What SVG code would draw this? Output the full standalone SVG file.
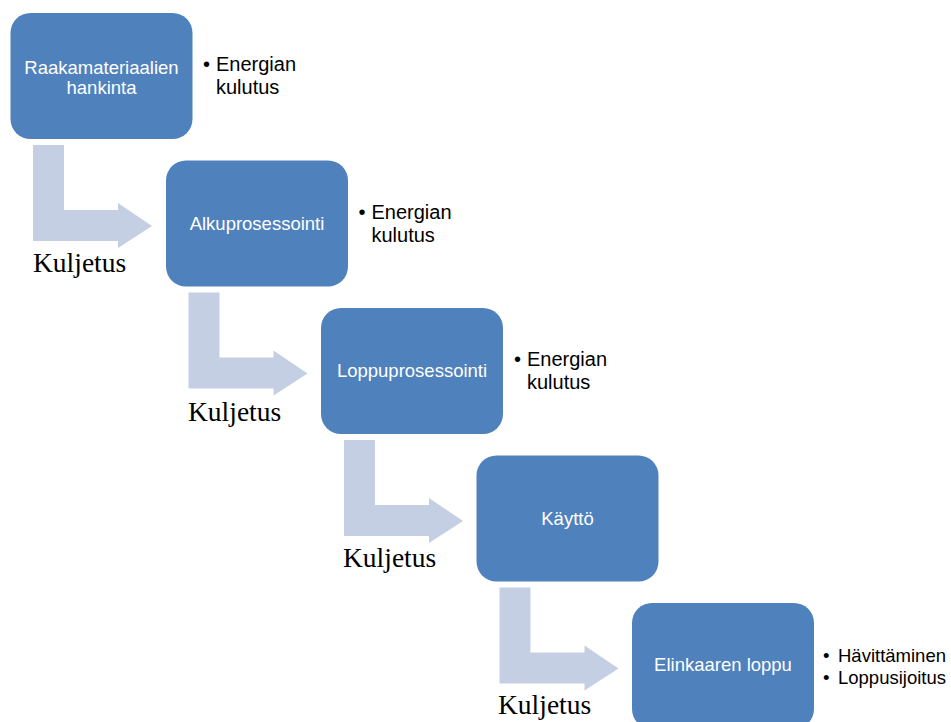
<svg xmlns="http://www.w3.org/2000/svg" width="951" height="722" viewBox="0 0 951 722">
<style>
.box{fill:#4f81bd;}
.lbl{fill:#ffffff;font-family:"Liberation Sans",Arial,sans-serif;font-size:18.5px;text-anchor:middle;}
.side{fill:#000000;font-family:"Liberation Sans",Arial,sans-serif;font-size:20px;}
.side2{fill:#000000;font-family:"Liberation Sans",Arial,sans-serif;font-size:18.5px;}
.arr{fill:#c5cfe3;}
.kul{fill:#000000;font-family:"Liberation Serif","Times New Roman",serif;font-size:27.5px;}
</style>
<defs>
<polygon id="elbow" points="33,145 64,145 64,210 118,210 118,203 152,226 118,248 118,241 33,241"/>
</defs>
<rect width="951" height="722" fill="#ffffff"/>
<g id="connectors">
<use href="#elbow" class="arr"/>
<use href="#elbow" class="arr" transform="translate(155.5,147.5)"/>
<use href="#elbow" class="arr" transform="translate(311,295)"/>
<use href="#elbow" class="arr" transform="translate(466.5,442.5)"/>
<text class="kul" x="33" y="272">Kuljetus</text>
<text class="kul" x="188" y="421">Kuljetus</text>
<text class="kul" x="343" y="567">Kuljetus</text>
<text class="kul" x="498" y="714">Kuljetus</text>
</g>
<g id="node1">
<rect class="box" x="10.5" y="13" width="182" height="126" rx="20"/>
<text class="lbl" x="101.5" y="74">Raakamateriaalien</text>
<text class="lbl" x="101.5" y="94">hankinta</text>
<text class="side" x="203" y="71">•</text>
<text class="side" x="216" y="71">Energian</text>
<text class="side" x="216" y="94">kulutus</text>
</g>
<g id="node2">
<rect class="box" x="166" y="160.5" width="182" height="126" rx="20"/>
<text class="lbl" x="257" y="230">Alkuprosessointi</text>
<text class="side" x="358.5" y="218.5">•</text>
<text class="side" x="371.5" y="218.5">Energian</text>
<text class="side" x="371.5" y="241.5">kulutus</text>
</g>
<g id="node3">
<rect class="box" x="321" y="308" width="182" height="126" rx="20"/>
<text class="lbl" x="412" y="377">Loppuprosessointi</text>
<text class="side" x="514" y="366">•</text>
<text class="side" x="527" y="366">Energian</text>
<text class="side" x="527" y="389">kulutus</text>
</g>
<g id="node4">
<rect class="box" x="476.5" y="455.5" width="182" height="126" rx="20"/>
<text class="lbl" x="567.5" y="525">Käyttö</text>
</g>
<g id="node5">
<rect class="box" x="632" y="603" width="182" height="126" rx="20"/>
<text class="lbl" x="723" y="671">Elinkaaren loppu</text>
<text class="side2" x="823" y="662">•</text>
<text class="side2" x="838" y="662">Hävittäminen</text>
<text class="side2" x="823" y="684">•</text>
<text class="side2" x="838" y="684">Loppusijoitus</text>
</g>
</svg>
